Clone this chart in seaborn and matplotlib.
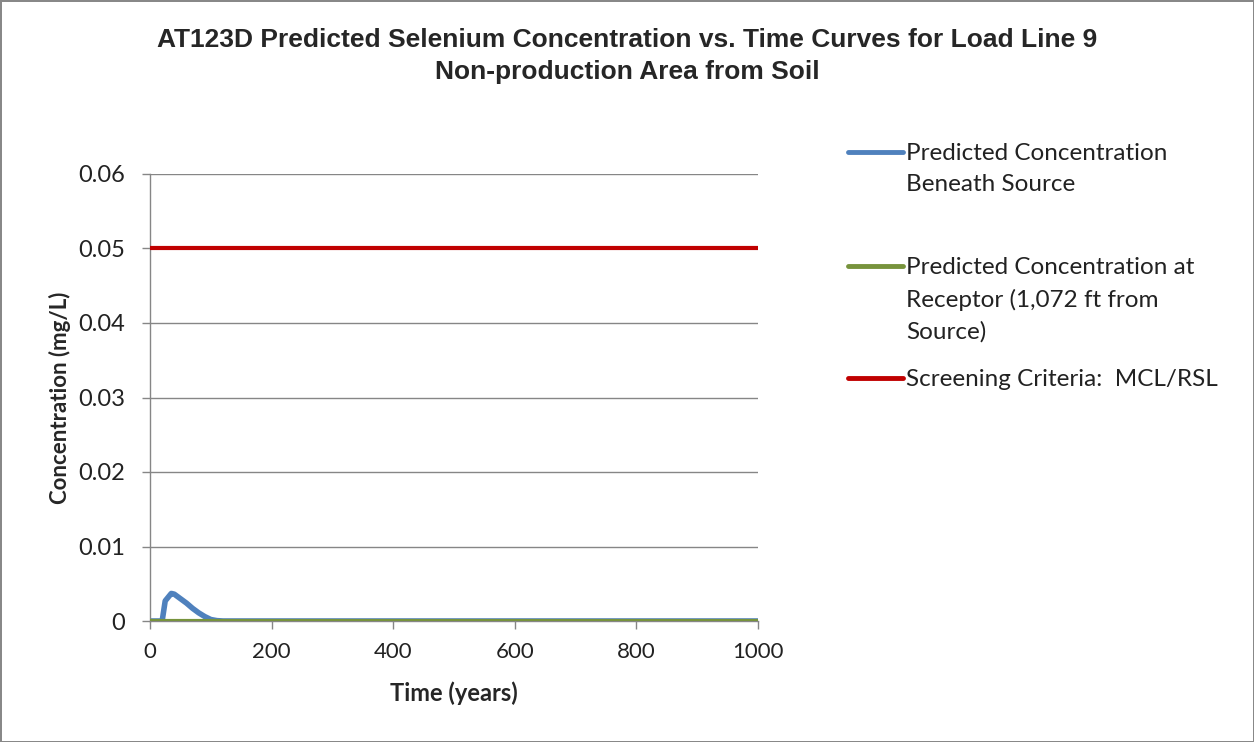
import numpy as np
import pandas as pd
import seaborn as sns
import matplotlib
matplotlib.use("Agg")
import matplotlib.pyplot as plt
from matplotlib.lines import Line2D

# ---- data ----
years = [0, 10, 20, 25, 30, 35, 40, 45, 50, 60, 70, 80, 90, 100, 110, 120, 200, 300, 400, 500, 600, 700, 800, 900, 1000]
beneath_source = [0, 0, 0, 0.0027, 0.0032, 0.0037, 0.0036, 0.0033, 0.0030, 0.0024, 0.0017, 0.0011, 0.0006, 0.0002, 0.00005, 0, 0, 0, 0, 0, 0, 0, 0, 0, 0]
at_receptor = [0] * len(years)
screening = [0.05] * len(years)

labels = ["Predicted Concentration\nBeneath Source",
          "Predicted Concentration at\nReceptor (1,072 ft from\nSource)",
          "Screening Criteria:  MCL/RSL"]
colors = ["#4F81BD", "#77933C", "#C00000"]
xticks = [0, 200, 400, 600, 800, 1000]
yticks = [0, 0.01, 0.02, 0.03, 0.04, 0.05, 0.06]
ytick_labels = ["0", "0.01", "0.02", "0.03", "0.04", "0.05", "0.06"]

sns.set_theme(style="white")
plt.rcParams['font.family'] = ['Lato', 'DejaVu Sans']

fig = plt.figure(figsize=(12.54, 7.42), dpi=100)
fig.patch.set_facecolor("white")
fig.patch.set_edgecolor("#888888")
fig.patch.set_linewidth(2)

ax = fig.add_axes([150/1254, 1-621/742, (758-150)/1254, (621-174)/742])

df = pd.DataFrame({"year": years, "beneath": beneath_source, "receptor": at_receptor, "screen": screening})
sns.lineplot(data=df, x="year", y="receptor", ax=ax, color=colors[1], linewidth=3, zorder=3)
sns.lineplot(data=df, x="year", y="beneath", ax=ax, color=colors[0], linewidth=4, zorder=2)
sns.lineplot(data=df, x="year", y="screen", ax=ax, color=colors[2], linewidth=3, zorder=3)

ax.set_xlim(0, 1000)
ax.set_ylim(0, 0.06)
ax.set_xticks(xticks)
ax.set_xticklabels([str(x) for x in xticks], fontsize=16)
ax.set_yticks(yticks)
ax.set_yticklabels(ytick_labels, fontsize=17)
ax.yaxis.grid(True, color="#868686", linewidth=1)
ax.xaxis.grid(False)
for s in ["top", "right"]:
    ax.spines[s].set_visible(False)
for s in ["left", "bottom"]:
    ax.spines[s].set_color("#868686")
    ax.spines[s].set_linewidth(1)
ax.tick_params(axis="x", which="both", bottom=True, length=6, width=1, color="#868686", direction="out", pad=9, labelcolor="#222222")
ax.tick_params(axis="y", which="both", left=True, length=6, width=1, color="#868686", direction="out", pad=12, labelcolor="#222222")

ax.set_xlabel("Time (years)", fontsize=17, fontweight="bold", labelpad=14)
ax.set_ylabel("Concentration (mg/L)", fontsize=16, fontweight="bold", labelpad=5)

fig.text(0.5, 1-40/742, "AT123D Predicted Selenium Concentration vs. Time Curves for Load Line 9",
         ha="center", va="center", fontsize=19, fontweight="bold", family=["Liberation Sans", "DejaVu Sans"])
fig.text(0.5, 1-72/742, "Non-production Area from Soil",
         ha="center", va="center", fontsize=19, fontweight="bold", family=["Liberation Sans", "DejaVu Sans"])

# legend (manual)
legend_y = [152, 266, 378]
for lab, c, yy in zip(labels, colors, legend_y):
    fy = 1 - yy/742
    fig.add_artist(Line2D([848/1254, 903/1254], [fy, fy], color=c, linewidth=3.5, transform=fig.transFigure))
    fig.text(906/1254, fy + 9/742, lab, ha="left", va="top", fontsize=17.5, color="#222222", linespacing=1.6)

fig.savefig("out.png", dpi=100, facecolor=fig.get_facecolor(), edgecolor=fig.get_edgecolor())
